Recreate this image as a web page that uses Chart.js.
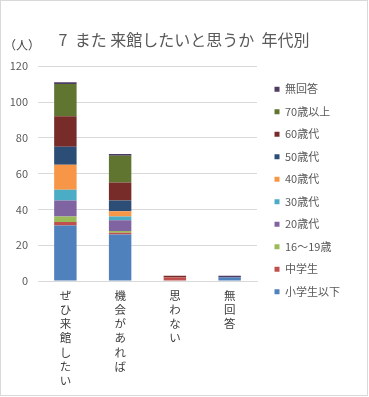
<!DOCTYPE html>
<html lang="ja">
<head>
<meta charset="UTF-8">
<title>また来館したいと思うか 年代別</title>
<script src="https://cdn.jsdelivr.net/npm/chart.js"></script>
<style>
  body { margin: 0; background: #fff; }
  .wrap { width: 369px; height: 397px; position: relative; }
</style>
</head>
<body>
<div class="wrap"><canvas id="chart"></canvas></div>
<script>
// 回答カテゴリ
const categories = ['ぜひ来館したい', '機会があれば', '思わない', '無回答'];

// 年代別の人数（下から順に積み上げ）
const shogakusei = [31, 26, 0, 2];
const chugakusei = [2, 1, 2, 0];
const age16to19 = [3, 1, 0, 0];
const age20s = [9, 6, 0, 0];
const age30s = [6, 2, 0, 0];
const age40s = [14, 3, 0, 0];
const age50s = [10, 6, 0, 0];
const age60s = [17, 10, 1, 0];
const age70plus = [18, 15, 0, 0];
const mukaito = [1, 1, 0, 1];

const yTicks = [0, 20, 40, 60, 80, 100, 120];

const series = [
  { label: '小学生以下', data: shogakusei, color: '#4F81BD' },
  { label: '中学生', data: chugakusei, color: '#C0504D' },
  { label: '16～19歳', data: age16to19, color: '#9BBB59' },
  { label: '20歳代', data: age20s, color: '#8064A2' },
  { label: '30歳代', data: age30s, color: '#4BACC6' },
  { label: '40歳代', data: age40s, color: '#F79646' },
  { label: '50歳代', data: age50s, color: '#2C4D75' },
  { label: '60歳代', data: age60s, color: '#772C2A' },
  { label: '70歳以上', data: age70plus, color: '#5F7530' },
  { label: '無回答', data: mukaito, color: '#4D3B62' }
];

const font = '"Noto Sans CJK JP", "Noto Sans", sans-serif';

// 枠線と（人）の表示、凡例とタイトル位置の微調整
const extras = {
  id: 'extras',
  afterLayout(chart) {
    const l = chart.legend;
    l.top -= 8; l.bottom -= 8;
    l.left += 6; l.right += 6;
    const t = chart.titleBlock;
    t.left += 10; t.right += 10;
  },
  afterDraw(chart) {
    const ctx = chart.ctx;
    ctx.save();
    ctx.strokeStyle = '#D9D9D9';
    ctx.lineWidth = 1;
    ctx.strokeRect(0.5, 0.5, chart.width - 2, chart.height - 2);
    ctx.fillStyle = '#404040';
    ctx.font = '12px ' + font;
    ctx.textBaseline = 'middle';
    ctx.fillText('（人）', 4, 45);
    ctx.restore();
  }
};

new Chart(document.getElementById('chart'), {
  type: 'bar',
  data: {
    // 縦書き風に1文字ずつ改行
    labels: categories.map(c => c.split('')),
    datasets: series.map(s => ({
      label: s.label,
      data: s.data,
      backgroundColor: s.color,
      borderWidth: 0,
      barPercentage: 0.41,
      categoryPercentage: 1
    }))
  },
  options: {
    responsive: true,
    maintainAspectRatio: false,
    animation: false,
    layout: { padding: { left: 8, right: 29, top: 0, bottom: 0 } },
    scales: {
      x: {
        stacked: true,
        grid: { display: false, drawTicks: false },
        border: { color: '#D9D9D9' },
        ticks: {
          color: '#404040',
          font: { family: font, size: 11.5, lineHeight: 1.22 },
          maxRotation: 0,
          padding: 8
        },
        afterFit: s => { s.height = 116; }
      },
      y: {
        stacked: true,
        min: 0,
        max: 120,
        afterBuildTicks: s => { s.ticks = yTicks.map(v => ({ value: v })); },
        grid: { color: '#D9D9D9', drawTicks: false },
        border: { display: false },
        ticks: {
          color: '#595959',
          font: { family: font, size: 11 },
          padding: 10
        },
        afterFit: s => { s.width = 30; }
      }
    },
    plugins: {
      title: {
        display: true,
        text: '7  また 来館したいと思うか  年代別',
        color: '#595959',
        font: { family: font, size: 16, weight: 'normal' },
        padding: { top: 30, bottom: 17 }
      },
      legend: {
        position: 'right',
        reverse: true,
        labels: {
          boxWidth: 5,
          boxHeight: 5,
          padding: 11.5,
          color: '#595959',
          font: { family: font, size: 11 }
        }
      },
      tooltip: { enabled: false }
    }
  },
  plugins: [extras]
});
</script>
</body>
</html>
